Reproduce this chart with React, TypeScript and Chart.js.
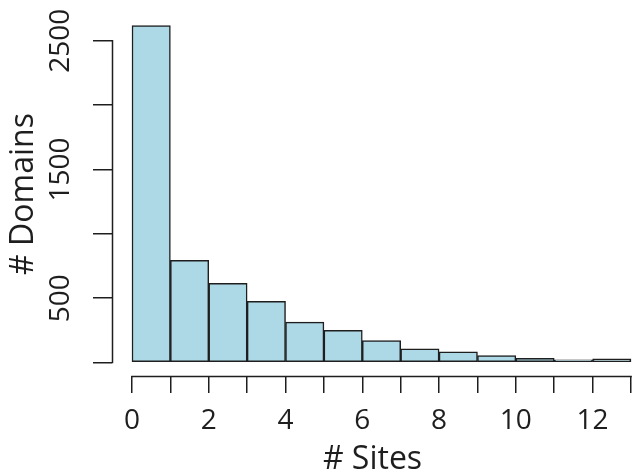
import React, { useEffect, useRef } from "react";
import { Chart, registerables } from "chart.js";

Chart.register(...registerables);

const binStarts = [0, 1, 2, 3, 4, 5, 6, 7, 8, 9, 10, 11, 12];
const binWidth = 1;
const counts = [2619, 794, 615, 475, 314, 251, 171, 107, 83, 54, 33, 21, 29];
const xTicks = [0, 1, 2, 3, 4, 5, 6, 7, 8, 9, 10, 11, 12, 13];
const xLabeled = [0, 2, 4, 6, 8, 10, 12];
const yTicks = [0, 500, 1000, 1500, 2000, 2500];
const yLabeled = [500, 1500, 2500];
const xTitle = "# Sites";
const yTitle = "# Domains";

const FONT = "'Open Sans', 'DejaVu Sans', sans-serif";
const INK = "#1e1e1e";

const axisLines = {
  id: "axisLines",
  afterDatasetsDraw(chart: any) {
    const { ctx, chartArea, scales } = chart;
    const x = scales.x;
    const y = scales.y;
    ctx.save();
    ctx.strokeStyle = INK;
    ctx.lineWidth = 1.5;
    ctx.lineCap = "square";
    ctx.beginPath();
    const yb = Math.round(chartArea.bottom) + 0.5;
    ctx.moveTo(x.getPixelForValue(xTicks[0]), yb);
    ctx.lineTo(x.getPixelForValue(xTicks[xTicks.length - 1]), yb);
    const xl = Math.round(chartArea.left) + 0.5;
    ctx.moveTo(xl, y.getPixelForValue(yTicks[0]));
    ctx.lineTo(xl, y.getPixelForValue(yTicks[yTicks.length - 1]));
    ctx.stroke();
    ctx.restore();
  },
};

export default function App() {
  const ref = useRef<HTMLCanvasElement | null>(null);
  useEffect(() => {
    if (!ref.current) return;
    const chart = new Chart(ref.current, {
      type: "bar",
      data: {
        datasets: [
          {
            data: binStarts.map((s, i) => ({ x: s + binWidth / 2, y: counts[i] })),
            backgroundColor: "#ADD8E6",
            borderColor: INK,
            borderWidth: 1.5,
            borderSkipped: false,
            barPercentage: 1,
            categoryPercentage: 1,
          },
        ],
      },
      options: {
        animation: false,
        responsive: false,
        maintainAspectRatio: false,
        layout: { padding: { top: 12, right: 0, left: 0, bottom: 0 } },
        plugins: { legend: { display: false }, tooltip: { enabled: false } },
        scales: {
          x: {
            type: "linear",
            offset: false,
            min: -0.521,
            max: 13.052,
            afterBuildTicks: (s: any) => {
              s.ticks = xTicks.map((v) => ({ value: v }));
            },
            afterFit: (s: any) => {
              s.height = 98;
              s.paddingLeft = 0;
              s.paddingRight = 0;
            },
            grid: {
              offset: false,
              drawOnChartArea: false,
              drawTicks: true,
              tickLength: 17,
              color: INK,
              lineWidth: 1.5,
            },
            border: { display: false },
            ticks: {
              autoSkip: false,
              maxRotation: 0,
              minRotation: 0,
              padding: 11,
              color: INK,
              font: { family: FONT, size: 28 },
              callback: (v: any) => (xLabeled.includes(Number(v)) ? String(v) : ""),
            },
            title: {
              display: true,
              text: xTitle,
              color: INK,
              font: { family: FONT, size: 32 },
              padding: { top: 0, bottom: -5 },
            },
          },
          y: {
            type: "linear",
            min: -104.8,
            max: 2723.8,
            afterBuildTicks: (s: any) => {
              s.ticks = yTicks.map((v) => ({ value: v }));
            },
            afterFit: (s: any) => {
              s.width = 112;
              s.paddingTop = 0;
              s.paddingBottom = 0;
            },
            grid: {
              drawOnChartArea: false,
              drawTicks: true,
              tickLength: 19,
              color: INK,
              lineWidth: 1.5,
            },
            border: { display: false },
            ticks: {
              autoSkip: false,
              minRotation: 90,
              maxRotation: 90,
              crossAlign: "center",
              padding: 0,
              color: INK,
              font: { family: FONT, size: 28 },
              callback: (v: any) => (yLabeled.includes(Number(v)) ? String(v) : ""),
            },
            title: {
              display: true,
              text: yTitle,
              color: INK,
              font: { family: FONT, size: 32 },
              padding: { top: 5, bottom: 0 },
            },
          },
        },
      },
      plugins: [axisLines],
    } as any);
    return () => chart.destroy();
  }, []);
  return (
    <div style={{ position: "fixed", left: 0, top: 0, width: 633, height: 474, background: "#fff" }}>
      <canvas ref={ref} width={633} height={474} style={{ width: 633, height: 474, display: "block" }} />
    </div>
  );
}
